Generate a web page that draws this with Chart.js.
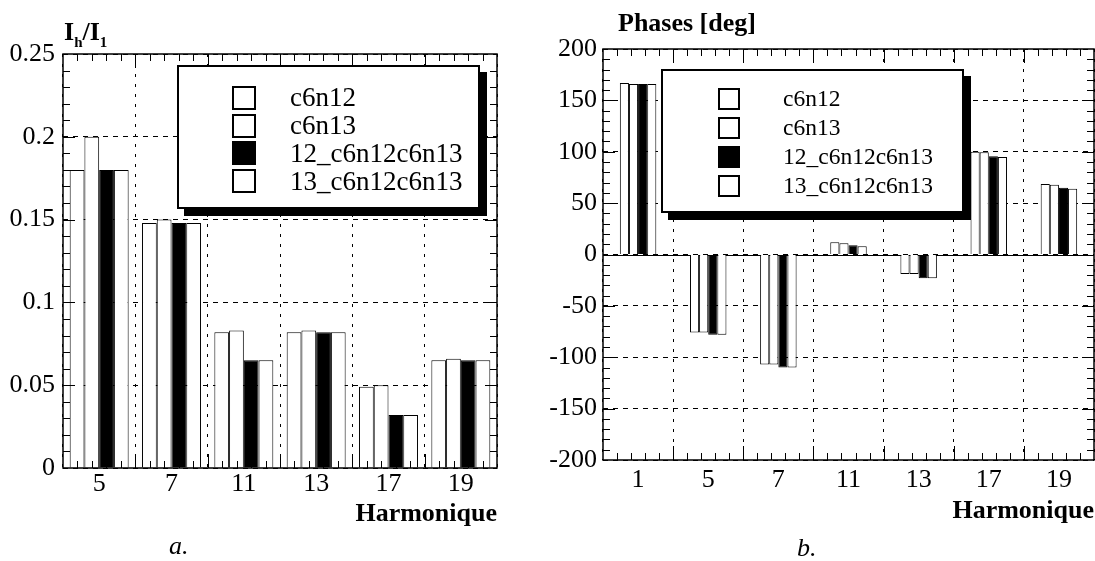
<!DOCTYPE html>
<html>
<head>
<meta charset="utf-8">
<script src="https://cdn.jsdelivr.net/npm/chart.js@4.4.1/dist/chart.umd.min.js"></script>
<style>
  html, body { margin: 0; padding: 0; background: #fff; }
  body {
    width: 1095px; height: 561px; position: relative; overflow: hidden;
    font-family: 'Liberation Serif', 'Times New Roman', serif; color: #000;
  }
  canvas { position: absolute; top: 0; }
  .legend { position: absolute; background: #fff; border: 2px solid #000; box-sizing: border-box; }
  .legend .row { position: absolute; display: flex; align-items: center; white-space: nowrap; line-height: 1; }
  .legend .swatch { box-sizing: border-box; border: 2px solid #000; flex: none; }
  .label { position: absolute; white-space: nowrap; line-height: 26px; font-size: 26px; }
  .label sub { font-size: 15px; vertical-align: -7px; line-height: 0; }
</style>
</head>
<body>
<canvas id="amp" width="540" height="561" style="left:0;width:540px;height:561px"></canvas>
<canvas id="phase" width="555" height="561" style="left:540px;width:555px;height:561px"></canvas>

<div class="label" style="left:64px;top:19px;font-weight:bold">I<sub>h</sub>/I<sub>1</sub></div>
<div class="label" style="left:618px;top:10px;font-weight:bold">Phases [deg]</div>
<div class="label" style="left:169px;top:533px;font-style:italic">a.</div>
<div class="label" style="left:797px;top:535px;font-style:italic">b.</div>

<script>
const FONT = "'Liberation Serif', 'Times New Roman', serif"

const seriesNames = ['c6n12', 'c6n13', '12_c6n12c6n13', '13_c6n12c6n13']

// a. harmonic amplitude I_h / I_1
const harmonicsA = ['5', '7', '11', '13', '17', '19']
const c6n12A = [0.180, 0.148, 0.082, 0.082, 0.049, 0.065]
const c6n13A = [0.200, 0.150, 0.083, 0.083, 0.050, 0.066]
const mix12A = [0.180, 0.148, 0.065, 0.082, 0.032, 0.065]
const mix13A = [0.180, 0.148, 0.065, 0.082, 0.032, 0.065]
const yTicksA = [0, 0.05, 0.1, 0.15, 0.2, 0.25]
const yLabelsA = ['0', '0.05', '0.1', '0.15', '0.2', '0.25']

// b. harmonic phases in degrees
const harmonicsB = ['1', '5', '7', '11', '13', '17', '19']
const c6n12B = [167, -76, -107, 12, -19, 100, 68.5]
const c6n13B = [166, -76, -107, 11, -19, 99.5, 68]
const mix12B = [166, -78, -110, 9, -23, 95.5, 65]
const mix13B = [166, -78, -110, 8, -23, 95, 64]
const yTicksB = [-200, -150, -100, -50, 0, 50, 100, 150, 200]
const yLabelsB = ['-200', '-150', '-100', '-50', '0', '50', '100', '150', '200']

// frame around the plot with small inward ticks on all four sides
const frameTicks = {
  id: 'frameTicks',
  beforeDatasetsDraw(chart, args, opts) {
    if (!opts.zeroLine) return
    const { ctx, chartArea: a, scales: { y } } = chart
    const py = Math.round(y.getPixelForValue(0)) + 0.5
    ctx.save()
    ctx.strokeStyle = '#000'
    ctx.lineWidth = 1
    ctx.beginPath()
    ctx.moveTo(a.left, py)
    ctx.lineTo(a.right, py)
    ctx.stroke()
    ctx.restore()
  },
  afterDatasetsDraw(chart, args, opts) {
    const { ctx, chartArea: a, scales: { x, y } } = chart
    ctx.save()
    ctx.strokeStyle = '#000'
    ctx.lineWidth = 1
    ctx.beginPath()

    // y minor / major ticks on left and right borders
    const n = Math.round((y.max - y.min) / opts.yMinor)
    for (let i = 1; i < n; i++) {
      const v = y.min + i * opts.yMinor
      const major = i % opts.yPerMajor === 0
      const len = major ? 12 : 7
      const py = Math.round(y.getPixelForValue(v)) + 0.5
      ctx.moveTo(a.left, py); ctx.lineTo(a.left + len, py)
      ctx.moveTo(a.right, py); ctx.lineTo(a.right - len, py)
    }

    // x ticks: 5 subdivisions per category on top and bottom borders
    const count = chart.data.labels.length
    const w = (a.right - a.left) / count
    for (let i = 0; i < count; i++) {
      for (let k = 0; k < 5; k++) {
        if (i === 0 && k === 0) continue
        const px = Math.round(a.left + (i + k / 5) * w) + 0.5
        const len = k === 0 ? 14 : 7
        ctx.moveTo(px, a.top); ctx.lineTo(px, a.top + len)
        ctx.moveTo(px, a.bottom); ctx.lineTo(px, a.bottom - len)
      }
    }
    ctx.stroke()

    ctx.lineWidth = 1.5
    ctx.strokeRect(a.left, a.top, a.right - a.left, a.bottom - a.top)
    ctx.restore()
  }
}

function makeDatasets(series, catPct) {
  return series.map((data, i) => ({
    label: seriesNames[i],
    data,
    backgroundColor: seriesNames[i].startsWith('12_') ? '#000' : '#fff',
    borderColor: '#000',
    borderWidth: 1,
    categoryPercentage: catPct,
    barPercentage: 1
  }))
}

function makeChart(id, cfg) {
  return new Chart(document.getElementById(id), {
    type: 'bar',
    data: {
      labels: cfg.labels,
      datasets: makeDatasets(cfg.series, cfg.catPct)
    },
    plugins: [frameTicks],
    options: {
      responsive: false,
      animation: false,
      events: [],
      layout: { padding: cfg.padding },
      plugins: {
        legend: { display: false },
        tooltip: { enabled: false },
        frameTicks: { yMinor: cfg.yMinor, yPerMajor: 5, zeroLine: cfg.zeroLine }
      },
      scales: {
        x: {
          grid: { color: '#000', lineWidth: 1, drawTicks: false, offset: true },
          border: { display: false, dash: [3, 7] },
          ticks: {
            color: '#000', padding: cfg.xPad, autoSkip: false, maxRotation: 0,
            font: { family: FONT, size: 26 }
          },
          title: {
            display: true, text: 'Harmonique', align: 'end', color: '#000',
            font: { family: FONT, size: 26, weight: 'bold' },
            padding: { top: 0, bottom: cfg.titlePad }
          },
          afterFit: (s) => { s.height = cfg.xHeight }
        },
        y: {
          min: cfg.yTicks[0],
          max: cfg.yTicks[cfg.yTicks.length - 1],
          afterBuildTicks: (s) => { s.ticks = cfg.yTicks.map(v => ({ value: v })) },
          grid: { color: '#000', lineWidth: 1, drawTicks: false },
          border: { display: false, dash: [5, 5] },
          ticks: {
            color: '#000', padding: cfg.yPad,
            font: { family: FONT, size: 26 },
            callback: (v, i) => cfg.yLabels[i]
          },
          afterFit: (s) => { s.width = cfg.yWidth }
        }
      }
    }
  })
}

// legend box with hard black shadow, built from the chart's datasets
function buildLegend(chart, box) {
  const el = document.createElement('div')
  el.className = 'legend'
  Object.assign(el.style, {
    left: box.left + 'px', top: box.top + 'px',
    width: box.width + 'px', height: box.height + 'px',
    boxShadow: `${box.shadow}px ${box.shadow}px 0 #000`
  })
  chart.data.datasets.forEach((ds, i) => {
    const row = document.createElement('div')
    row.className = 'row'
    Object.assign(row.style, {
      left: (box.swatchX - 2) + 'px',
      top: (box.firstRow + i * box.pitch - box.pitch / 2 - 2) + 'px',
      height: box.pitch + 'px',
      fontSize: box.fontSize + 'px'
    })
    const sw = document.createElement('div')
    sw.className = 'swatch'
    Object.assign(sw.style, {
      width: box.swatch + 'px', height: box.swatch + 'px',
      background: ds.backgroundColor,
      marginRight: (box.textX - box.swatchX - box.swatch) + 'px'
    })
    const txt = document.createElement('span')
    txt.textContent = ds.label
    row.appendChild(sw)
    row.appendChild(txt)
    el.appendChild(row)
  })
  document.body.appendChild(el)
}

const ampChart = makeChart('amp', {
  labels: harmonicsA,
  series: [c6n12A, c6n13A, mix12A, mix13A],
  catPct: 0.815,
  yTicks: yTicksA, yLabels: yLabelsA,
  yMinor: 0.01, zeroLine: false,
  padding: { top: 54, right: 43, left: 0, bottom: 0 },
  yWidth: 63, xHeight: 93,
  xPad: 1, yPad: 8, titlePad: 31
})

const phaseChart = makeChart('phase', {
  labels: harmonicsB,
  series: [c6n12B, c6n13B, mix12B, mix13B],
  catPct: 0.52,
  yTicks: yTicksB, yLabels: yLabelsB,
  yMinor: 10, zeroLine: true,
  padding: { top: 49, right: 1, left: 0, bottom: 0 },
  yWidth: 63, xHeight: 101,
  xPad: 5, yPad: 6, titlePad: 34
})

buildLegend(ampChart, {
  left: 177, top: 65, width: 303, height: 144, shadow: 7,
  swatchX: 55, swatch: 24, textX: 113, firstRow: 33, pitch: 27.7, fontSize: 27
})
buildLegend(phaseChart, {
  left: 661, top: 69, width: 303, height: 144, shadow: 7,
  swatchX: 57, swatch: 22, textX: 122, firstRow: 30, pitch: 29, fontSize: 23.5
})
</script>
</body>
</html>
